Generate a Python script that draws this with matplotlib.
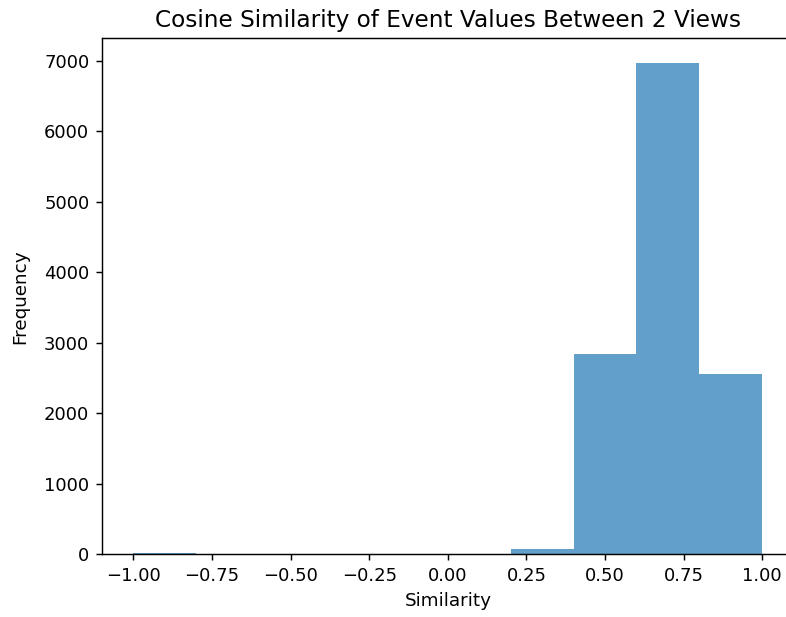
import matplotlib
matplotlib.use("Agg")
import matplotlib.pyplot as plt
import numpy as np

bin_edges = [-1.0, -0.8, -0.6, -0.4, -0.2, 0.0, 0.2, 0.4, 0.6, 0.8, 1.0]
counts = [18, 0, 0, 0, 0, 0, 72, 2834, 6968, 2551]

s = 1.3
fig = plt.figure(figsize=(7.86, 6.17), dpi=100)
ax = fig.add_axes([102 / 786, (617 - 554.3) / 617, 691.6 / 786, (554.3 - 38.3) / 617])
centers = [(a + b) / 2 for a, b in zip(bin_edges[:-1], bin_edges[1:])]
ax.hist(centers, bins=bin_edges, weights=counts, color="#1f77b4", alpha=0.7)
ax.set_title("Cosine Similarity of Event Values Between 2 Views", fontsize=16.7, pad=6 * s)
ax.set_xlabel("Similarity", fontsize=13.2, labelpad=4 * s)
ax.set_ylabel("Frequency", fontsize=13.2, labelpad=10.5)
ax.tick_params(labelsize=13, length=3.5 * s, width=0.8 * s, pad=3.5 * s)
for sp in ax.spines.values():
    sp.set_linewidth(0.8 * s)
fig.savefig("out.png", dpi=100)
